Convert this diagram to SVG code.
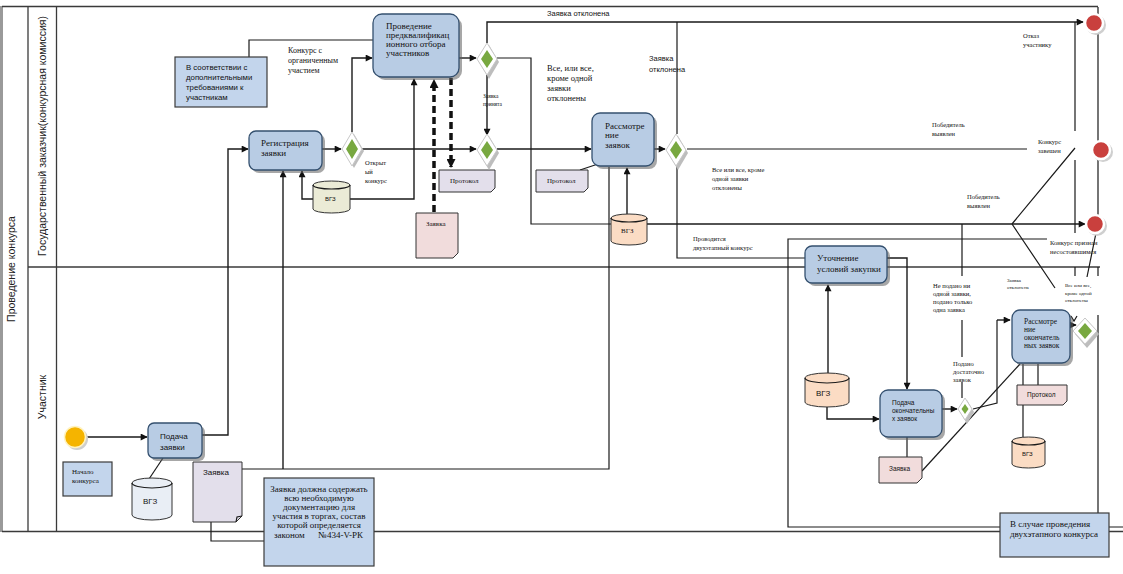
<svg xmlns="http://www.w3.org/2000/svg" width="1123" height="574" viewBox="0 0 1123 574">
<defs>
<marker id="ah" viewBox="0 0 10 10" refX="9" refY="5" markerWidth="8" markerHeight="7" markerUnits="userSpaceOnUse" orient="auto"><path d="M0,0 L10,5 L0,10 z" fill="#111"/></marker>
<marker id="ahb" viewBox="0 0 10 10" refX="9" refY="5" markerWidth="10" markerHeight="9" markerUnits="userSpaceOnUse" orient="auto"><path d="M0,0 L10,5 L0,10 z" fill="#111"/></marker>
<style>
.pool{stroke:#3a3a3a;stroke-width:1.3;fill:none}
.ln{stroke:#1a1a1a;stroke-width:1.2;fill:none}
.ar{stroke:#1a1a1a;stroke-width:1.4;fill:none;marker-end:url(#ah)}
.dash{stroke:#111;stroke-width:3.5;fill:none;stroke-dasharray:7,4;marker-end:url(#ahb)}
.task{fill:#b8cce4;stroke:#34506f;stroke-width:1.3}
.shd{fill:#5f5f5f;opacity:.55}
.ann{fill:#c3d5ec;stroke:#3b3b3b;stroke-width:1.2}
.docl{fill:#e3dfeb;stroke:#333;stroke-width:1}
.docp{fill:#f1dcdc;stroke:#333;stroke-width:1}
.cyb{fill:#ebebd6;stroke:#333;stroke-width:1}
.cyo{fill:#fbdcc4;stroke:#333;stroke-width:1}
.cyw{fill:#e9eef5;stroke:#333;stroke-width:1}
.dout{fill:#fff;stroke:#c8c8c8;stroke-width:1}
.dsh{fill:#bdbdbd}
.din{fill:#78a840}
.endc{fill:#c9403d;stroke:#fff;stroke-width:2.5}
.se{font-family:"Liberation Serif","Times New Roman",serif;fill:#111}
.sa{font-family:"Liberation Sans",Arial,sans-serif;fill:#111}
.lane{font-family:"Liberation Sans",Arial,sans-serif;font-size:10.5px;fill:#222}
</style>
</defs>
<rect x="0" y="0" width="1123" height="574" fill="#fff"/>

<g id="pool">
<line x1="1.5" y1="6" x2="1.5" y2="532" stroke="#9a9a9a" stroke-width="3"/>
<line class="pool" x1="2" y1="6.5" x2="1098" y2="6.5"/>
<line class="pool" x1="2" y1="531.5" x2="1123" y2="531.5"/>
<line class="pool" x1="28" y1="6" x2="28" y2="531"/>
<line class="pool" x1="56.5" y1="6" x2="56.5" y2="531"/>
<line class="pool" x1="28" y1="267" x2="1100" y2="267"/>
<text class="lane" transform="translate(15,269) rotate(-90)" text-anchor="middle">Проведение конкурса</text>
<text class="lane" transform="translate(46,136) rotate(-90)" text-anchor="middle">Государственный заказчик(конкурсная комиссия)</text>
<text class="lane" transform="translate(46,397) rotate(-90)" text-anchor="middle">Участник</text>
</g>

<g id="connectors">
<path class="ar" d="M87,437 L147,437"/>
<path class="ar" d="M202,435 L228,435 L228,149 L248,149"/>
<path class="ln" d="M242,469 L609,469 L609,167"/>
<path class="ar" d="M283,469 L283,171"/>
<path class="ar" d="M313,199 L302,199 L302,171"/>
<path class="ar" d="M350,199 L414,199 L414,79"/>
<path class="ar" d="M322,149 L341,149"/>
<path class="ar" d="M352,132 L352,58 L372,58"/>
<path class="ln" d="M249,57 L249,40 L373,40"/>
<path class="ar" d="M362,149 L476,149"/>
<path class="ar" d="M459,58 L476,58"/>
<path class="ar" d="M487,43 L487,22 L1083,22"/>
<path class="ar" d="M487,75 L487,135"/>
<path class="ln" d="M497,58 L531,58 L531,224 L611,224"/>
<path class="ar" d="M647,224 L1085,224"/>
<path class="ar" d="M497,149 L591,149"/>
<path class="ar" d="M654,149 L665,149"/>
<path class="ln" d="M677,134 L677,22"/>
<path class="ln" d="M687,149 L1027,149"/>
<path class="ln" d="M677,166 L677,258 L805,258"/>
<path class="ar" d="M887,258 L907,258 L907,389"/>
<path class="ar" d="M828,373 L828,285"/>
<path class="ar" d="M827,407 L827,419 L879,419"/>
<path class="ar" d="M942,409 L957,409"/>
<path class="ln" d="M962,398 L962,382 M962,357 L962,320 M962,276 L962,224"/>
<path class="ln" d="M973,409 L997,403 L997,320"/>
<path class="ar" d="M997,320 L1010,320"/>
<path class="ln" d="M922,471 L1020,364"/>
<path class="ar" d="M1070,325 L1076,325"/>
<path class="ln" d="M1023,364 L1023,385 M1038,364 L1038,385 M1023,405 L1023,437"/>
<path class="ln" d="M907,437 L907,457"/>
<path class="ln" d="M1012,224 L1075,148 M1012,224 L1055,288 M1087,277 L1096,233"/>
<path class="ln" d="M1075,22 L1075,131 M1075,160 L1075,233 M1075,267 L1075,276"/>
<path class="ln" d="M1071,316 L1074,321 L1077,316"/>
<path class="ln" d="M1098,7 L1098,141 M1098,159 L1098,215 M1098,267 L1098,276 M1098,315 L1098,513"/>
<path class="ln" d="M1047,239 L788,239 L788,527 L1000,527 M1109,527 L1123,527"/>
<path class="dash" d="M451,78 L451,167"/>
<path class="dash" d="M434,212 L434,80"/>
<path class="ln" d="M580,170 L598,164"/>
<path class="ar" d="M627,214 L627,168"/>
<path class="ln" d="M163,458 L149,479"/>
<path class="ln" d="M211,522 L211,541 L265,541"/>
</g>

<g id="start">
<circle cx="77" cy="439" r="11" fill="#cfcfcf"/>
<circle cx="75" cy="437" r="10.5" fill="#f5b400" stroke="#fff3c0" stroke-width="1.5"/>
</g>

<g id="podacha">
<rect class="shd" x="151" y="426" width="54" height="35" rx="6"/>
<rect class="task" x="148" y="423" width="54" height="35" rx="6"/>
<text class="sa" font-size="8" x="160" y="439">Подача</text>
<text class="sa" font-size="8" x="160" y="450">заявки</text>
</g>

<g id="nachalo">
<rect class="ann" x="63" y="462" width="49" height="34"/>
<text class="se" font-size="7" x="72" y="474">Начало</text>
<text class="se" font-size="7" x="72" y="483">конкурса</text>
</g>

<g id="vgz4">
<path class="cyw" d="M132,483 A20,5 0 0 1 172,483 L172,515 A20,5 0 0 1 132,515 Z"/>
<path class="ln" d="M132,483 A20,5 0 0 0 172,483"/>
<text class="sa" font-size="8" x="143" y="504">ВГЗ</text>
</g>

<g id="zayavka1">
<path class="docl" d="M193,462 H242 V516 L236,522 H193 Z"/>
<path class="ln" d="M236,522 L237,517 L242,516"/>
<text class="sa" font-size="8" x="203" y="475">Заявка</text>
</g>

<g id="note434">
<rect class="ann" x="264" y="478" width="110" height="88"/>
<text class="se" font-size="9" text-anchor="middle" x="319" y="492">Заявка должна содержать</text>
<text class="se" font-size="9" text-anchor="middle" x="319" y="501">всю необходимую</text>
<text class="se" font-size="9" text-anchor="middle" x="319" y="510">документацию для</text>
<text class="se" font-size="9" text-anchor="middle" x="319" y="519">участия в торгах, состав</text>
<text class="se" font-size="9" text-anchor="middle" x="319" y="528">которой определяется</text>
<text class="se" font-size="9" x="274" y="538" xml:space="preserve">законом      №434-V-РК</text>
</g>

<g id="note-req">
<rect class="ann" x="175" y="57" width="92" height="50"/>
<text class="sa" font-size="7.8" x="186" y="70">В соответствии с</text>
<text class="sa" font-size="7.8" x="186" y="80">дополнительными</text>
<text class="sa" font-size="7.8" x="186" y="90">требованиями к</text>
<text class="sa" font-size="7.8" x="186" y="100">участникам</text>
</g>

<g id="registration">
<rect class="shd" x="252" y="134" width="73" height="39" rx="7"/>
<rect class="task" x="249" y="131" width="73" height="39" rx="7"/>
<text class="se" font-size="9" x="261" y="146">Регистрация</text>
<text class="se" font-size="9" x="261" y="156">заявки</text>
</g>

<g id="vgz1">
<path class="cyb" d="M313,185 A18.5,4 0 0 1 350,185 L350,209 A18.5,4 0 0 1 313,209 Z"/>
<path class="ln" d="M313,185 A18.5,4 0 0 0 350,185"/>
<text class="sa" font-size="6" x="325" y="201">ВГЗ</text>
</g>

<g id="prequal">
<rect class="shd" x="376" y="17" width="86" height="63" rx="9"/>
<rect class="task" x="373" y="14" width="86" height="63" rx="9"/>
<text class="se" font-size="9" x="386" y="29">Проведение</text>
<text class="se" font-size="9" x="386" y="38">предквалификац</text>
<text class="se" font-size="9" x="386" y="47">ионного отбора</text>
<text class="se" font-size="9" x="386" y="56">участников</text>
</g>

<g id="protokol1">
<path class="docl" d="M439,170 H495 V188 L491,192 H439 Z"/>
<text class="se" font-size="7" x="450" y="183">Протокол</text>
</g>

<g id="zayavka2">
<path class="docp" d="M416,213 H458 V253 L453,258 H416 Z"/>
<text class="se" font-size="7" x="426" y="226">Заявка</text>
</g>

<g id="protokol2">
<path class="docl" d="M536,170 H588 V188 L584,192 H536 Z"/>
<text class="se" font-size="7" x="547" y="183">Протокол</text>
</g>

<g id="review">
<rect class="shd" x="595" y="116" width="62" height="53" rx="8"/>
<rect class="task" x="592" y="113" width="62" height="53" rx="8"/>
<text class="se" font-size="9" x="605" y="129">Рассмотре</text>
<text class="se" font-size="9" x="605" y="138">ние</text>
<text class="se" font-size="9" x="605" y="148">заявок</text>
</g>

<g id="vgz2">
<path class="cyo" d="M611,218 A18,4 0 0 1 647,218 L647,241 A18,4 0 0 1 611,241 Z"/>
<path class="ln" d="M611,218 A18,4 0 0 0 647,218"/>
<text class="se" font-size="7" x="621" y="233">ВГЗ</text>
</g>

<g id="d1">
<path class="dsh" d="M354,134 L364,151 L354,168 L344,151 Z"/>
<path class="dout" d="M352,132 L362,149 L352,166 L342,149 Z"/>
<path class="din" d="M352,139 L358,149 L352,159 L346,149 Z"/>
</g>
<g id="d2">
<path class="dsh" d="M489,45 L499,62 L489,79 L479,62 Z"/>
<path class="dout" d="M487,43 L497,59 L487,75 L477,59 Z"/>
<path class="din" d="M487,50 L493,59 L487,68 L481,59 Z"/>
</g>
<g id="d4">
<path class="dsh" d="M489,136 L499,153 L489,170 L479,153 Z"/>
<path class="dout" d="M487,134 L497,150 L487,166 L477,150 Z"/>
<path class="din" d="M487,141 L493,150 L487,159 L481,150 Z"/>
</g>
<g id="d3">
<path class="dsh" d="M678,136 L688,153 L678,170 L668,153 Z"/>
<path class="dout" d="M676,134 L686,150 L676,166 L666,150 Z"/>
<path class="din" d="M676,141 L682,150 L676,159 L670,150 Z"/>
</g>

<g id="end1">
<circle cx="1096" cy="25" r="10" fill="#cfcfcf"/>
<circle class="endc" cx="1094" cy="23" r="9"/>
</g>
<g id="end2">
<circle cx="1103" cy="152" r="10" fill="#cfcfcf"/>
<circle class="endc" cx="1101" cy="150" r="9"/>
</g>
<g id="end3">
<circle cx="1097" cy="226" r="10" fill="#cfcfcf"/>
<circle class="endc" cx="1095" cy="224" r="9"/>
</g>

<g id="utochnenie">
<rect class="shd" x="808" y="249" width="82" height="37" rx="7"/>
<rect class="task" x="805" y="246" width="82" height="37" rx="7"/>
<text class="se" font-size="9" x="817" y="261">Уточнение</text>
<text class="se" font-size="9" x="817" y="272">условий закупки</text>
</g>

<g id="vgz3">
<path class="cyo" d="M805,378 A22,5 0 0 1 849,378 L849,402 A22,5 0 0 1 805,402 Z"/>
<path class="ln" d="M805,378 A22,5 0 0 0 849,378"/>
<text class="sa" font-size="8" x="816" y="396">ВГЗ</text>
</g>

<g id="podacha-final">
<rect class="shd" x="883" y="393" width="62" height="47" rx="8"/>
<rect class="task" x="880" y="390" width="62" height="47" rx="8"/>
<text class="sa" font-size="6.5" x="892" y="405">Подача</text>
<text class="sa" font-size="6.5" x="892" y="413">окончательны</text>
<text class="sa" font-size="6.5" x="892" y="421">х заявок</text>
</g>

<g id="zayavka3">
<path class="docp" d="M879,457 H922 V478 L917,483 H879 Z"/>
<text class="sa" font-size="6.5" x="889" y="471">Заявка</text>
</g>

<g id="d5">
<path class="dsh" d="M967,400 L974,412 L967,424 L960,412 Z"/>
<path class="dout" d="M965,398 L972,409 L965,420 L958,409 Z"/>
<path class="din" d="M965,404 L968.5,409 L965,414 L961.5,409 Z"/>
</g>

<g id="review-final">
<rect class="shd" x="1015" y="313" width="58" height="53" rx="8"/>
<rect class="task" x="1012" y="310" width="58" height="53" rx="8"/>
<text class="se" font-size="7.5" x="1024" y="324">Рассмотре</text>
<text class="se" font-size="7.5" x="1024" y="332">ние</text>
<text class="se" font-size="7.5" x="1024" y="340">окончатель</text>
<text class="se" font-size="7.5" x="1024" y="348">ных заявок</text>
</g>

<g id="d6">
<path class="dsh" d="M1087,320 L1099,334 L1087,348 L1075,334 Z"/>
<path class="dout" d="M1085,318 L1097,331 L1085,344 L1073,331 Z"/>
<path class="din" d="M1085,323 L1092,331 L1085,339 L1078,331 Z"/>
</g>

<g id="protokol3">
<path class="docp" d="M1017,385 H1067 V401 L1063,405 H1017 Z"/>
<text class="sa" font-size="6.5" x="1027" y="397">Протокол</text>
</g>

<g id="vgz5">
<path class="cyo" d="M1012,441 A16.5,4 0 0 1 1045,441 L1045,464 A16.5,4 0 0 1 1012,464 Z"/>
<path class="ln" d="M1012,441 A16.5,4 0 0 0 1045,441"/>
<text class="sa" font-size="6" x="1022" y="456">ВГЗ</text>
</g>

<g id="note-twostage">
<rect class="ann" x="1000" y="513" width="109" height="44"/>
<text class="se" font-size="9" x="1010" y="527">В случае проведения</text>
<text class="se" font-size="9" x="1010" y="537">двухэтапного конкурса</text>
</g>

<g id="labels">
<text class="sa" font-size="7.5" x="547" y="16">Заявка отклонена</text>
<text class="se" font-size="8" x="288" y="53">Конкурс с</text>
<text class="se" font-size="8" x="288" y="63">органиченным</text>
<text class="se" font-size="8" x="288" y="73">участием</text>
<text class="se" font-size="6.5" x="365" y="165">Открыт</text>
<text class="se" font-size="6.5" x="365" y="174">ый</text>
<text class="se" font-size="6.5" x="365" y="183">конкурс</text>
<text class="se" font-size="5.5" x="483" y="98">Заявка</text>
<text class="se" font-size="5.5" x="483" y="106">принята</text>
<text class="se" font-size="8.5" x="547" y="71">Все, или все,</text>
<text class="se" font-size="8.5" x="547" y="81">кроме одной</text>
<text class="se" font-size="8.5" x="547" y="91">заявки</text>
<text class="se" font-size="8.5" x="547" y="101">отклонены</text>
<text class="sa" font-size="7.5" x="649" y="61">Заявка</text>
<text class="sa" font-size="7.5" x="649" y="72">отклонена</text>
<text class="se" font-size="6.5" x="712" y="172">Все или все, кроме</text>
<text class="se" font-size="6.5" x="712" y="181">одной заявки</text>
<text class="se" font-size="6.5" x="712" y="190">отклонены</text>
<text class="se" font-size="6.5" x="693" y="241">Проводится</text>
<text class="se" font-size="6.5" x="693" y="250">двухэтапный конкурс</text>
<text class="se" font-size="6.5" x="932" y="127">Победитель</text>
<text class="se" font-size="6.5" x="932" y="136">выявлен</text>
<text class="se" font-size="6.5" x="1038" y="144">Конкурс</text>
<text class="se" font-size="6.5" x="1038" y="153">завешен</text>
<text class="se" font-size="6.5" x="1023" y="38">Отказ</text>
<text class="se" font-size="6.5" x="1023" y="47">участнику</text>
<text class="se" font-size="6.5" x="967" y="199">Победитель</text>
<text class="se" font-size="6.5" x="967" y="208">выявлен</text>
<text class="se" font-size="6.5" x="1050" y="245">Конкурс признан</text>
<text class="se" font-size="6.5" x="1050" y="254">несостоявшимся</text>
<text class="se" font-size="5" x="1007" y="282">Заявка</text>
<text class="se" font-size="5" x="1007" y="289">отклонена</text>
<text class="se" font-size="5" x="1065" y="287">Все или все,</text>
<text class="se" font-size="5" x="1065" y="295">кроме одной</text>
<text class="se" font-size="5" x="1065" y="302">отклонены</text>
<text class="se" font-size="6.5" x="933" y="288">Не подано ни</text>
<text class="se" font-size="6.5" x="933" y="296">одной заявки,</text>
<text class="se" font-size="6.5" x="933" y="304">подано только</text>
<text class="se" font-size="6.5" x="933" y="312">одна заявка</text>
<text class="se" font-size="6.5" x="953" y="366">Подано</text>
<text class="se" font-size="6.5" x="953" y="374">достаточно</text>
<text class="se" font-size="6.5" x="953" y="382">заявок</text>
</g>
</svg>
